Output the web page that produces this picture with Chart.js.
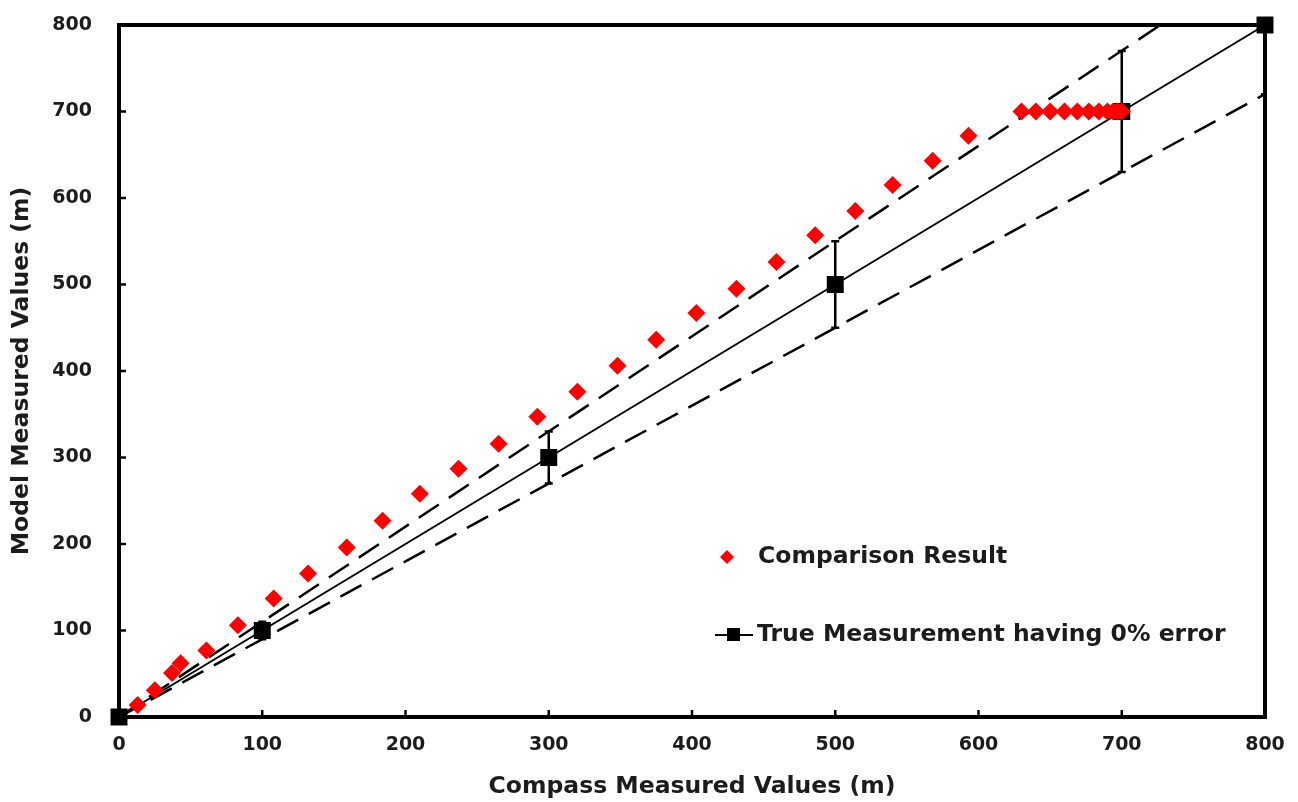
<!DOCTYPE html>
<html>
<head>
<meta charset="utf-8">
<script src="https://cdn.jsdelivr.net/npm/chart.js@4"></script>
<style>
  body { margin: 0; background: #fff; }
  #wrap { width: 1298px; height: 802px; position: relative; }
</style>
</head>
<body>
<div id="wrap"><canvas id="myChart"></canvas></div>
<script>
// comparison points
const compassX = [13, 25, 37, 43, 61, 83, 108, 132, 159, 184, 210, 237, 265, 292, 320, 348, 375, 403, 431, 459, 486, 514, 540, 568, 593,
  630, 640, 650, 660, 669, 677, 684, 690, 694, 697, 700]
const modelY = [14, 31, 51, 62, 77, 106, 137, 166, 196, 227, 258, 287, 316, 347, 376, 406, 436, 467, 495, 526, 557, 585, 615, 643, 672,
  700, 700, 700, 700, 700, 700, 700, 700, 700, 700, 700]

// true measurement line + error bars
const trueX = [0, 100, 300, 500, 700, 800]
const trueY = [0, 100, 300, 500, 700, 800]
const errLow = [0, 90, 270, 450, 630, 720]
const errHigh = [0, 110, 330, 550, 770, 880]

// dashed +/- bounds
const upperX = [0, 727]
const upperY = [0, 800]
const lowerX = [0, 800]
const lowerY = [0, 720]

const ticksVals = [0, 100, 200, 300, 400, 500, 600, 700, 800]

const FONT = '"DejaVu Sans", "Open Sans", sans-serif'
const TXT = '#1c1c1c'

function pts(xs, ys) {
  return xs.map((x, i) => ({x: x, y: ys[i]}))
}

const errorBars = {
  id: 'errorBars',
  beforeDatasetsDraw(chart) {
    const {ctx, chartArea, scales} = chart
    ctx.save()
    ctx.beginPath()
    ctx.rect(chartArea.left, chartArea.top, chartArea.width, chartArea.height)
    ctx.clip()
    ctx.strokeStyle = '#000'
    ctx.lineWidth = 2.5
    for (let i = 0; i < trueX.length; i++) {
      if (errHigh[i] === errLow[i]) continue
      const px = scales.x.getPixelForValue(trueX[i])
      const y1 = scales.y.getPixelForValue(errLow[i])
      const y2 = scales.y.getPixelForValue(errHigh[i])
      ctx.beginPath()
      ctx.moveTo(px, y1); ctx.lineTo(px, y2)
      ctx.moveTo(px - 4, y1); ctx.lineTo(px + 4, y1)
      ctx.moveTo(px - 4, y2); ctx.lineTo(px + 4, y2)
      ctx.stroke()
    }
    ctx.restore()
  }
}

const frame = {
  id: 'frame',
  beforeDatasetsDraw(chart) {
    const {ctx, chartArea, scales} = chart
    ctx.save()
    ctx.strokeStyle = '#000'
    ctx.lineWidth = 4
    ctx.strokeRect(chartArea.left, chartArea.top, chartArea.width, chartArea.height)
    ctx.lineWidth = 2.5
    // inward tick marks
    for (const v of ticksVals.slice(1, -1)) {
      const px = scales.x.getPixelForValue(v)
      ctx.beginPath(); ctx.moveTo(px, chartArea.bottom); ctx.lineTo(px, chartArea.bottom - 7); ctx.stroke()
      const py = scales.y.getPixelForValue(v)
      ctx.beginPath(); ctx.moveTo(chartArea.left, py); ctx.lineTo(chartArea.left + 7, py); ctx.stroke()
    }
    ctx.restore()
  }
}

const legendBox = {
  id: 'legendBox',
  afterDraw(chart) {
    const ctx = chart.ctx
    ctx.save()
    ctx.font = 'bold 23.5px ' + FONT
    ctx.textBaseline = 'middle'
    // item 1
    ctx.fillStyle = '#ff0000'
    ctx.beginPath()
    ctx.moveTo(727, 550); ctx.lineTo(734, 557); ctx.lineTo(727, 564); ctx.lineTo(720, 557)
    ctx.closePath(); ctx.fill()
    ctx.fillStyle = TXT
    ctx.fillText('Comparison Result', 758, 557)
    // item 2
    ctx.strokeStyle = '#000'
    ctx.lineWidth = 2
    ctx.beginPath(); ctx.moveTo(715, 635); ctx.lineTo(753, 635); ctx.stroke()
    ctx.fillStyle = '#000'
    ctx.fillRect(727, 628, 13, 13)
    ctx.fillStyle = TXT
    ctx.fillText('True Measurement having 0% error', 757, 635)
    ctx.restore()
  }
}

const ctx1 = document.getElementById('myChart')
const chart1 = new Chart(ctx1, {
  type: 'scatter',
  data: {
    datasets: [
      {
        label: 'Comparison Result',
        data: pts(compassX, modelY),
        pointStyle: 'rectRot',
        pointRadius: 9,
        pointBackgroundColor: '#ff0000',
        pointBorderWidth: 0,
        clip: false,
      },
      {
        label: 'True Measurement having 0% error',
        data: pts(trueX, trueY),
        showLine: true,
        borderColor: '#000',
        borderWidth: 2,
        pointStyle: 'rect',
        pointRadius: 12,
        pointBackgroundColor: '#000',
        pointBorderWidth: 0,
        clip: false,
      },
      {
        label: 'upper',
        data: pts(upperX, upperY),
        showLine: true,
        borderColor: '#000',
        borderWidth: 2.5,
        borderDash: [24, 12],
        pointRadius: 0,
      },
      {
        label: 'lower',
        data: pts(lowerX, lowerY),
        showLine: true,
        borderColor: '#000',
        borderWidth: 2.5,
        borderDash: [24, 12],
        pointRadius: 0,
      },
    ]
  },
  options: {
    responsive: true,
    maintainAspectRatio: false,
    animation: false,
    layout: {padding: {top: 25, right: 33, left: 0, bottom: 0}},
    plugins: {legend: {display: false}, tooltip: {enabled: false}},
    scales: {
      x: {
        type: 'linear', min: 0, max: 800,
        afterFit: (s) => { s.height = 85; s.paddingLeft = 0; s.paddingRight = 0 },
        afterBuildTicks: (s) => { s.ticks = ticksVals.map(v => ({value: v})) },
        grid: {display: false, drawTicks: false},
        border: {display: false},
        ticks: {padding: 17, color: TXT, font: {family: FONT, weight: 'bold', size: 19}},
        title: {display: true, text: 'Compass Measured Values (m)', color: TXT,
          font: {family: FONT, weight: 'bold', size: 23.5}, padding: {top: 0, bottom: 1}},
      },
      y: {
        type: 'linear', min: 0, max: 800,
        afterFit: (s) => { s.width = 119; s.paddingTop = 0; s.paddingBottom = 0 },
        afterBuildTicks: (s) => { s.ticks = ticksVals.map(v => ({value: v})) },
        grid: {display: false, drawTicks: false},
        border: {display: false},
        ticks: {padding: 27, color: TXT, font: {family: FONT, weight: 'bold', size: 19}},
        title: {display: true, text: 'Model Measured Values (m)', color: TXT,
          font: {family: FONT, weight: 'bold', size: 23.5}, padding: {top: 8, bottom: 0}},
      }
    }
  },
  plugins: [errorBars, frame, legendBox]
})
</script>
</body>
</html>
